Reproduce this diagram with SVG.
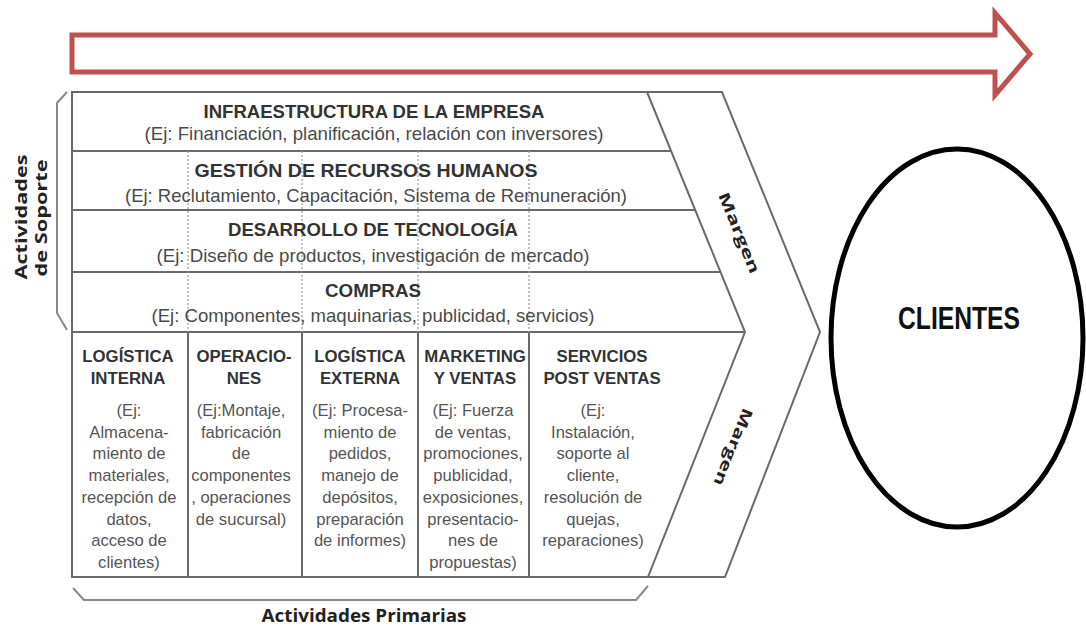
<svg xmlns="http://www.w3.org/2000/svg" width="1086" height="626" viewBox="0 0 1086 626">
<style>
.ln{fill:none;stroke:#6a6a6a;stroke-width:2;stroke-linejoin:miter}
.dot{fill:none;stroke:#9a9a9a;stroke-width:1.2;stroke-dasharray:2 2}
.st{font-family:"Liberation Sans",Arial,sans-serif;font-weight:bold;font-size:18.5px;fill:#333;text-anchor:middle}
.ss{font-family:"Liberation Sans",Arial,sans-serif;font-size:18.5px;fill:#4a4a4a;text-anchor:middle}
.ph{font-family:"Liberation Sans",Arial,sans-serif;font-weight:bold;font-size:16.8px;fill:#333;text-anchor:middle}
.pb{font-family:"Liberation Sans",Arial,sans-serif;font-size:16.6px;fill:#555;text-anchor:middle}
.lab{font-family:"Open Sans","Liberation Sans",sans-serif;font-weight:bold;fill:#222;text-anchor:middle}
</style>
<rect width="1086" height="626" fill="#fff"/>
<g id="connectors">
  <polygon id="value-arrow" points="72,35 995,35 995,13 1030,54 995,95 995,72 72,72" fill="#fff" stroke="#c0504d" stroke-width="5" stroke-linejoin="miter"/>
</g>
<g id="value-chain">
  <path class="ln" d="M72 92 L722 92 L820 332 L725 577 L72 577 Z" fill="#fff"/>
  <path class="ln" d="M647 92 L745 332 L648 577"/>
  <path class="ln" d="M72 151 H671 M72 210 H695 M72 272 H720 M72 332 H745"/>
  <path class="ln" d="M188 332 V577 M302 332 V577 M418 332 V577 M529 332 V577"/>
  <path class="dot" d="M188 151 V332 M302 151 V332 M418 151 V332 M529 151 V332"/>
</g>
<g id="support-infraestructura">
  <text class="st" x="374" y="118" textLength="341" lengthAdjust="spacingAndGlyphs">INFRAESTRUCTURA DE LA EMPRESA</text>
  <text class="ss" x="374" y="140" textLength="459" lengthAdjust="spacingAndGlyphs">(Ej: Financiación, planificación, relación con inversores)</text>
</g>
<g id="support-rrhh">
  <text class="st" x="366" y="177" textLength="343" lengthAdjust="spacingAndGlyphs">GESTIÓN DE RECURSOS HUMANOS</text>
  <text class="ss" x="376" y="202" textLength="502" lengthAdjust="spacingAndGlyphs">(Ej: Reclutamiento, Capacitación, Sistema de Remuneración)</text>
</g>
<g id="support-tecnologia">
  <text class="st" x="373" y="236" textLength="290" lengthAdjust="spacingAndGlyphs">DESARROLLO DE TECNOLOGÍA</text>
  <text class="ss" x="373" y="262" textLength="433" lengthAdjust="spacingAndGlyphs">(Ej: Diseño de productos, investigación de mercado)</text>
</g>
<g id="support-compras">
  <text class="st" x="373" y="297" textLength="96" lengthAdjust="spacingAndGlyphs">COMPRAS</text>
  <text class="ss" x="373" y="322" textLength="443" lengthAdjust="spacingAndGlyphs">(Ej: Componentes, maquinarias, publicidad, servicios)</text>
</g>
<g id="primary-logistica-interna">
  <text class="ph" x="128" y="362">LOGÍSTICA</text>
  <text class="ph" x="128" y="384">INTERNA</text>
  <text class="pb" x="129" y="416">(Ej:</text>
  <text class="pb" x="129" y="437.7">Almacena-</text>
  <text class="pb" x="129" y="459.4">miento de</text>
  <text class="pb" x="129" y="481.1">materiales,</text>
  <text class="pb" x="129" y="502.8">recepción de</text>
  <text class="pb" x="129" y="524.5">datos,</text>
  <text class="pb" x="129" y="546.2">acceso de</text>
  <text class="pb" x="129" y="567.9">clientes)</text>
</g>
<g id="primary-operaciones">
  <text class="ph" x="244" y="362">OPERACIO-</text>
  <text class="ph" x="244" y="384">NES</text>
  <text class="pb" x="241" y="416">(Ej:Montaje,</text>
  <text class="pb" x="241" y="437.7">fabricación</text>
  <text class="pb" x="241" y="459.4">de</text>
  <text class="pb" x="241" y="481.1">componentes</text>
  <text class="pb" x="241" y="502.8">, operaciones</text>
  <text class="pb" x="241" y="524.5">de sucursal)</text>
</g>
<g id="primary-logistica-externa">
  <text class="ph" x="360" y="362">LOGÍSTICA</text>
  <text class="ph" x="360" y="384">EXTERNA</text>
  <text class="pb" x="360" y="416">(Ej: Procesa-</text>
  <text class="pb" x="360" y="437.7">miento de</text>
  <text class="pb" x="360" y="459.4">pedidos,</text>
  <text class="pb" x="360" y="481.1">manejo de</text>
  <text class="pb" x="360" y="502.8">depósitos,</text>
  <text class="pb" x="360" y="524.5">preparación</text>
  <text class="pb" x="360" y="546.2">de informes)</text>
</g>
<g id="primary-marketing">
  <text class="ph" x="475" y="362">MARKETING</text>
  <text class="ph" x="475" y="384">Y VENTAS</text>
  <text class="pb" x="473" y="416">(Ej: Fuerza</text>
  <text class="pb" x="473" y="437.7">de ventas,</text>
  <text class="pb" x="473" y="459.4">promociones,</text>
  <text class="pb" x="473" y="481.1">publicidad,</text>
  <text class="pb" x="473" y="502.8">exposiciones,</text>
  <text class="pb" x="473" y="524.5">presentacio-</text>
  <text class="pb" x="473" y="546.2">nes de</text>
  <text class="pb" x="473" y="567.9">propuestas)</text>
</g>
<g id="primary-servicios">
  <text class="ph" x="602" y="362">SERVICIOS</text>
  <text class="ph" x="602" y="384">POST VENTAS</text>
  <text class="pb" x="593" y="416">(Ej:</text>
  <text class="pb" x="593" y="437.7">Instalación,</text>
  <text class="pb" x="593" y="459.4">soporte al</text>
  <text class="pb" x="593" y="481.1">cliente,</text>
  <text class="pb" x="593" y="502.8">resolución de</text>
  <text class="pb" x="593" y="524.5">quejas,</text>
  <text class="pb" x="593" y="546.2">reparaciones)</text>
</g>
<g id="margen">
  <text class="lab" font-size="15" transform="translate(739 233) rotate(67.8)" y="5" textLength="86" lengthAdjust="spacingAndGlyphs">Margen</text>
  <text class="lab" font-size="15" transform="translate(733 447) rotate(111.6)" y="5" textLength="82" lengthAdjust="spacingAndGlyphs">Margen</text>
</g>
<g id="actividades-soporte">
  <path d="M67 92 L57 103 L57 313 L67 330" fill="none" stroke="#888" stroke-width="2"/>
  <text class="lab" font-size="16" transform="translate(27 217) rotate(-90)" textLength="125" lengthAdjust="spacingAndGlyphs">Actividades</text>
  <text class="lab" font-size="16" transform="translate(47 218) rotate(-90)" textLength="117" lengthAdjust="spacingAndGlyphs">de Soporte</text>
</g>
<g id="actividades-primarias">
  <path d="M73 588 L84 600 L636 600 L648 586" fill="none" stroke="#888" stroke-width="2"/>
  <text class="lab" font-size="17" x="364" y="622" textLength="205" lengthAdjust="spacingAndGlyphs">Actividades Primarias</text>
</g>
<g id="clientes">
  <ellipse cx="957" cy="338" rx="126" ry="189" fill="#fff" stroke="#000" stroke-width="5"/>
  <text x="959" y="329" font-family="'Liberation Sans',Arial,sans-serif" font-weight="bold" font-size="32" fill="#111" text-anchor="middle" textLength="122" lengthAdjust="spacingAndGlyphs">CLIENTES</text>
</g>
</svg>
